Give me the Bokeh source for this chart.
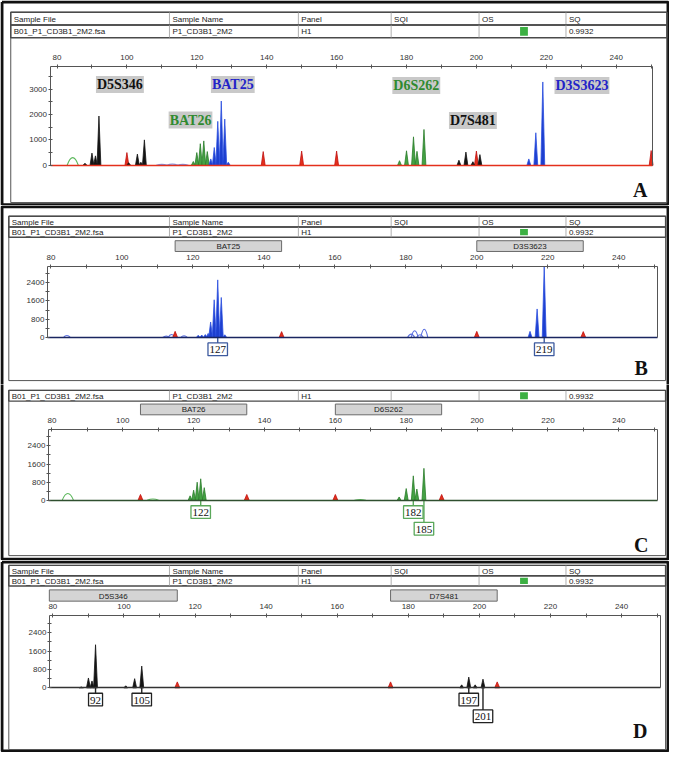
from bokeh.plotting import figure
from bokeh.models import Range1d, LinearAxis, FixedTicker
from bokeh.layouts import column
from bokeh.embed import file_html
from bokeh.resources import INLINE
from bokeh.core.properties import value

# ---------------- data ----------------
X_TICKS = [80, 100, 120, 140, 160, 180, 200, 220, 240]
X_MINOR = [90, 110, 130, 150, 170, 190, 210, 230, 250]
Y_TICKS_A = [0, 1000, 2000, 3000]
Y_MINOR_A = [500, 1500, 2500, 3500]
Y_TICKS_BCD = [0, 800, 1600, 2400]
Y_MINOR_BCD = [400, 1200, 2000, 2800]

HEADER_TITLES = ["Sample File", "Sample Name", "Panel", "SQI", "OS", "SQ"]
HEADER_VALUES = ["B01_P1_CD3B1_2M2.fsa", "P1_CD3B1_2M2", "H1", "", "", "0.9932"]

# Panel A: all dyes overlaid
A_MARKERS = ["D5S346", "BAT25", "BAT26", "D6S262", "D7S481", "D3S3623"]
A_MARKER_X = [98.0, 130.3, 118.2, 182.8, 199.0, 230.2]
A_MARKER_Y = [3180, 3180, 1780, 3140, 1760, 3140]
A_BLACK_X = [88, 90, 91, 92, 100.5, 103, 104, 105, 195, 197, 199, 201]
A_BLACK_H = [80, 480, 370, 1940, 100, 440, 120, 1000, 200, 520, 140, 420]
A_GREEN_X = [119, 120, 121, 122, 123, 178, 180, 182, 183, 185]
A_GREEN_H = [150, 500, 850, 960, 540, 180, 570, 1120, 550, 1410]
A_BLUE_X = [124, 125, 126, 127, 128, 129, 215, 217, 219]
A_BLUE_H = [250, 700, 1730, 2530, 1820, 120, 250, 1280, 3280]
A_RED_X = [100, 139, 150, 160, 200, 250]
A_RED_H = [500, 540, 560, 560, 560, 580]
A_GREEN_OPEN_X = [84.5]
A_GREEN_OPEN_H = [300]
A_BLUE_OPEN_X = [110, 113, 116]
A_BLUE_OPEN_H = [35, 45, 35]

# Panel B: blue dye
B_BINS = ["BAT25", "D3S3623"]
B_BIN_START = [115, 200]
B_BIN_END = [145, 230]
B_BLUE_X = [121.5, 122.5, 123.5, 124.3, 125, 126, 127, 128, 129, 215, 217, 219]
B_BLUE_H = [100, 110, 130, 180, 680, 1650, 2520, 1750, 120, 270, 1250, 3120]
B_BLUE_OPEN_X = [84.5, 112.5, 114, 117.5, 181.5, 182.5, 184, 185.2]
B_BLUE_OPEN_H = [90, 60, 130, 70, 150, 300, 120, 360]
B_RED_X = [115, 145, 200, 230]
B_RED_H = [270, 260, 270, 260]
B_CALLS = [127, 219]
B_CALL_TIER = [1, 1]

# Panel C: green dye
C_BINS = ["BAT26", "D6S262"]
C_BIN_START = [105, 160]
C_BIN_END = [135, 190]
C_GREEN_X = [119, 120, 121, 122, 123, 178, 180, 182, 183, 185]
C_GREEN_H = [200, 450, 800, 950, 560, 150, 520, 1080, 500, 1410]
C_GREEN_OPEN_X = [84.5, 108.5, 167]
C_GREEN_OPEN_H = [300, 60, 40]
C_RED_X = [105, 135, 160, 190]
C_RED_H = [260, 260, 260, 260]
C_CALLS = [122, 182, 185]
C_CALL_TIER = [1, 1, 2]

# Panel D: black dye
D_BINS = ["D5S346", "D7S481"]
D_BIN_START = [79, 175]
D_BIN_END = [115, 205]
D_BLACK_X = [88, 90, 91, 92, 100.5, 103, 105, 195, 197, 198.8, 201]
D_BLACK_H = [40, 430, 300, 1880, 90, 400, 950, 130, 470, 130, 380]
D_RED_X = [115, 175, 205]
D_RED_H = [260, 260, 260]
D_CALLS = [92, 105, 197, 201]
D_CALL_TIER = [1, 1, 1, 2]

# ---------------- layout / style ----------------
REF_W, REF_H = 685, 768
FIG_W, FIG_H = 669, 752
SANS = "Liberation Sans"
SERIF = "Liberation Serif"
COL_X = [173, 305, 400, 490, 579]

BLUE_FILL, BLUE_LINE = "#1d3fcf", "#2b4fe0"
GREEN_FILL, GREEN_LINE = "#44a244", "#2b7d2b"
BLACK = "#141414"
RED_FILL, RED_LINE = "#e4301c", "#c01010"

GEOM = {
    "A": dict(P0=0, P1=209, L=50.7, R=668, T=67, B0=168, xmin=78, xmax=250.5, ytop=3900),
    "B": dict(P0=209, P1=392, L=48, R=673, T=271, B0=344, xmin=79, xmax=251, ytop=3120),
    "C": dict(P0=392, P1=572, L=49, R=673, T=438, B0=510.5, xmin=79, xmax=251, ytop=3120),
    "D": dict(P0=572, P1=768, L=50, R=676, T=628, B0=702, xmin=79, xmax=251, ytop=3160),
}
HEIGHTS = {"A": 205, "B": 179, "C": 176, "D": 192}


def make_fig(key):
    g = GEOM[key]
    sx = (g["R"] - g["L"]) / (g["xmax"] - g["xmin"])
    sy = (g["B0"] - g["T"]) / g["ytop"]
    xr = Range1d(g["xmin"] - g["L"] / sx, g["xmin"] + (REF_W - g["L"]) / sx)
    yr = Range1d(-(g["P1"] - g["B0"]) / sy, (g["B0"] - g["P0"]) / sy)
    p = figure(width=FIG_W, height=HEIGHTS[key], x_range=xr, y_range=yr,
               x_axis_type=None, y_axis_type=None, output_backend="svg",
               toolbar_location=None, min_border=0)
    p.outline_line_color = None
    p.background_fill_color = "white"
    p.border_fill_color = "white"
    p.extra_x_ranges = {"px": Range1d(0, REF_W)}
    p.extra_y_ranges = {"py": Range1d(g["P1"], g["P0"])}
    return p


def style_axis(ax):
    ax.axis_line_color = "#555555"
    ax.axis_line_width = 1
    ax.major_tick_line_color = "#555555"
    ax.minor_tick_line_color = "#555555"
    ax.major_tick_in = 2
    ax.major_tick_out = 2
    ax.minor_tick_in = 2
    ax.minor_tick_out = 2
    ax.major_label_text_font = SANS
    ax.major_label_text_font_size = "8px"
    ax.major_label_text_color = "#333333"


def add_axes(p, key, yticks, yminor, base_color, base_width):
    g = GEOM[key]
    top = LinearAxis(fixed_location=g["ytop"], bounds=(g["xmin"], g["xmax"]),
                     ticker=FixedTicker(ticks=X_TICKS, minor_ticks=X_MINOR))
    style_axis(top)
    top.major_label_standoff = 4
    p.add_layout(top, "above")
    left = LinearAxis(fixed_location=g["xmin"], bounds=(0, g["ytop"]),
                      ticker=FixedTicker(ticks=yticks, minor_ticks=yminor))
    style_axis(left)
    left.major_label_standoff = 1
    p.add_layout(left, "left")
    right = LinearAxis(fixed_location=g["xmax"], bounds=(0, g["ytop"]),
                       ticker=FixedTicker(ticks=[]))
    right.axis_line_color = "#555555"
    right.major_tick_line_color = None
    right.minor_tick_line_color = None
    right.major_label_text_font_size = "0px"
    p.add_layout(right, "right")
    bottom = LinearAxis(fixed_location=0, bounds=(g["xmin"], g["xmax"]),
                        ticker=FixedTicker(ticks=[]))
    bottom.axis_line_color = base_color
    bottom.axis_line_width = base_width
    bottom.major_tick_line_color = None
    bottom.minor_tick_line_color = None
    bottom.major_label_text_font_size = "0px"
    p.add_layout(bottom, "below")


def header(p, left, right, rows):
    for y0, y1, texts, green in rows:
        p.quad(left=[left], right=[right], top=[y0], bottom=[y1], fill_color=None,
               line_color="#4a4a4a", line_width=1.4, x_range_name="px", y_range_name="py")
        p.segment(x0=COL_X, x1=COL_X, y0=[y0] * len(COL_X), y1=[y1] * len(COL_X),
                  line_color="#9a9a9a", line_width=0.8, x_range_name="px", y_range_name="py")
        tx = [left + 3] + [c + 3 for c in COL_X]
        p.text(x=tx, y=[(y0 + y1) / 2 + 0.5] * len(texts), text=texts,
               text_font=value(SANS), text_font_size="8px", text_color="#222222",
               text_baseline="middle", text_align="left",
               x_range_name="px", y_range_name="py")
        if green:
            p.quad(left=[532], right=[540], top=[y0 + 2], bottom=[y1 - 2],
                   fill_color="#3cb043", line_color=None, x_range_name="px", y_range_name="py")


def bins(p, names, starts, ends, y0, y1):
    p.quad(left=starts, right=ends, top=[y0] * len(names), bottom=[y1] * len(names),
           fill_color="#d4d4d4", line_color="#6a6a6a", line_width=1, y_range_name="py")
    p.text(x=[(s + e) / 2 for s, e in zip(starts, ends)], y=[(y0 + y1) / 2 + 0.5] * len(names),
           text=names, text_font=value(SANS), text_font_size="8px", text_color="#222222",
           text_align="center", text_baseline="middle", y_range_name="py")


def peaks(p, xs, hs, fill, line, w=0.55):
    p.patches(xs=[[x - w, x, x + w] for x in xs], ys=[[0, h, 0] for h in hs],
              fill_color=fill, line_color=line, line_width=0.8)


def humps(p, xs, hs, color, w=1.6):
    p.bezier(x0=[x - w for x in xs], y0=[0] * len(xs), x1=[x + w for x in xs], y1=[0] * len(xs),
             cx0=[x - 0.35 * w for x in xs], cy0=[h / 0.75 for h in hs],
             cx1=[x + 0.35 * w for x in xs], cy1=[h / 0.75 for h in hs],
             line_color=color, line_width=1.1)


def calls(p, key, xs, tiers, color):
    g = GEOM[key]
    ys = [g["B0"] + (12.0 if t == 1 else 29.0) for t in tiers]
    p.segment(x0=xs, x1=xs, y0=[g["B0"]] * len(xs), y1=[y - 6.5 for y in ys],
              line_color=color, line_width=1.4, y_range_name="py")
    p.rect(x=xs, y=ys, width=[5.5 * len(str(v)) + 3 for v in xs], height=13,
           width_units="screen", fill_color="white", line_color=color, line_width=1.3,
           y_range_name="py")
    p.text(x=xs, y=[y + 0.5 for y in ys], text=[str(v) for v in xs], text_font=value(SERIF),
           text_font_size="11px", text_color="#111111", text_align="center",
           text_baseline="middle", y_range_name="py")


def letter(p, x, y, s):
    p.text(x=[x], y=[y], text=[s], text_font=value(SERIF), text_font_style="bold",
           text_font_size="20px", text_color="#111111", text_align="center",
           text_baseline="middle", x_range_name="px", y_range_name="py")


def frame(p, xs, ys, width, color="#111111"):
    p.line(x=xs, y=ys, line_color=color, line_width=width, x_range_name="px", y_range_name="py")


# ---------------- panel A ----------------
pa = make_fig("A")
frame(pa, [1.5, 683.5, 683.5, 1.5, 1.5], [1.5, 1.5, 208.3, 208.3, 1.5], 3)
frame(pa, [10.5, 682.5, 682.5, 10.5, 10.5], [12, 12, 206, 206, 12], 1, "#555555")
header(pa, 10.5, 682.5, [(12, 25, HEADER_TITLES, False), (25, 38, HEADER_VALUES, True)])
add_axes(pa, "A", Y_TICKS_A, Y_MINOR_A, RED_FILL, 1.6)
humps(pa, A_GREEN_OPEN_X, A_GREEN_OPEN_H, "#5cb85c")
humps(pa, A_BLUE_OPEN_X, A_BLUE_OPEN_H, "#8090e0")
peaks(pa, A_RED_X, A_RED_H, RED_FILL, RED_LINE)
peaks(pa, A_BLACK_X, A_BLACK_H, BLACK, BLACK)
peaks(pa, A_GREEN_X, A_GREEN_H, GREEN_FILL, GREEN_LINE)
peaks(pa, A_BLUE_X, A_BLUE_H, BLUE_FILL, BLUE_LINE)
pa.text(x=A_MARKER_X, y=A_MARKER_Y, text=A_MARKERS, text_font=value(SERIF),
        text_font_style="bold", text_font_size="14px",
        text_color=["#111111", "#2323c8", "#2f8a2f", "#2f8a2f", "#111111", "#2323c8"],
        text_align="center", text_baseline="middle",
        background_fill_color="#c9c9c9", padding=1)
letter(pa, 655, 193, "A")

# ---------------- panel B ----------------
pb = make_fig("B")
frame(pb, [1.5, 1.5, 683.5, 683.5], [400, 210.3, 210.3, 400], 3)
frame(pb, [8.5, 681, 681, 8.5, 8.5], [220, 220, 388, 388, 220], 1, "#555555")
header(pb, 8.5, 681, [(220, 231, HEADER_TITLES, False), (231, 241.5, HEADER_VALUES, True)])
bins(pb, B_BINS, B_BIN_START, B_BIN_END, 245, 256)
add_axes(pb, "B", Y_TICKS_BCD, Y_MINOR_BCD, "#1a2660", 1.6)
humps(pb, B_BLUE_OPEN_X, B_BLUE_OPEN_H, "#5a6ee0", 1.0)
peaks(pb, B_RED_X, B_RED_H, RED_FILL, RED_LINE, 0.7)
peaks(pb, B_BLUE_X, B_BLUE_H, BLUE_FILL, BLUE_LINE)
calls(pb, "B", B_CALLS, B_CALL_TIER, "#3d5a9e")
letter(pb, 656, 375, "B")

# ---------------- panel C ----------------
pc = make_fig("C")
frame(pc, [1.5, 1.5, 683.5, 683.5], [380, 570.8, 570.8, 380], 3)
frame(pc, [8.5, 681, 681, 8.5, 8.5], [398, 398, 567, 567, 398], 1, "#555555")
header(pc, 8.5, 681, [(398, 409, HEADER_VALUES, True)])
bins(pc, C_BINS, C_BIN_START, C_BIN_END, 412, 423)
add_axes(pc, "C", Y_TICKS_BCD, Y_MINOR_BCD, "#2f4f2f", 1.6)
humps(pc, C_GREEN_OPEN_X, C_GREEN_OPEN_H, "#5cb85c")
peaks(pc, C_RED_X, C_RED_H, RED_FILL, RED_LINE, 0.7)
peaks(pc, C_GREEN_X, C_GREEN_H, GREEN_FILL, GREEN_LINE)
calls(pc, "C", C_CALLS, C_CALL_TIER, "#5aa85a")
letter(pc, 656, 556, "C")

# ---------------- panel D ----------------
pd_ = make_fig("D")
frame(pd_, [1.5, 683.5, 683.5, 1.5, 1.5], [573.5, 573.5, 766.5, 766.5, 573.5], 3)
frame(pd_, [8.5, 681, 681, 8.5, 8.5], [577, 577, 765, 765, 577], 1, "#555555")
header(pd_, 8.5, 681, [(577, 587.5, HEADER_TITLES, False), (587.5, 598, HEADER_VALUES, True)])
bins(pd_, D_BINS, D_BIN_START, D_BIN_END, 602, 613.5)
add_axes(pd_, "D", Y_TICKS_BCD, Y_MINOR_BCD, "#333333", 1.6)
peaks(pd_, D_RED_X, D_RED_H, RED_FILL, RED_LINE, 0.7)
peaks(pd_, D_BLACK_X, D_BLACK_H, BLACK, BLACK)
calls(pd_, "D", D_CALLS, D_CALL_TIER, "#222222")
letter(pd_, 655, 746, "D")

layout = column(pa, pb, pc, pd_, spacing=0)
open("out.html", "w").write(file_html(layout, INLINE))
